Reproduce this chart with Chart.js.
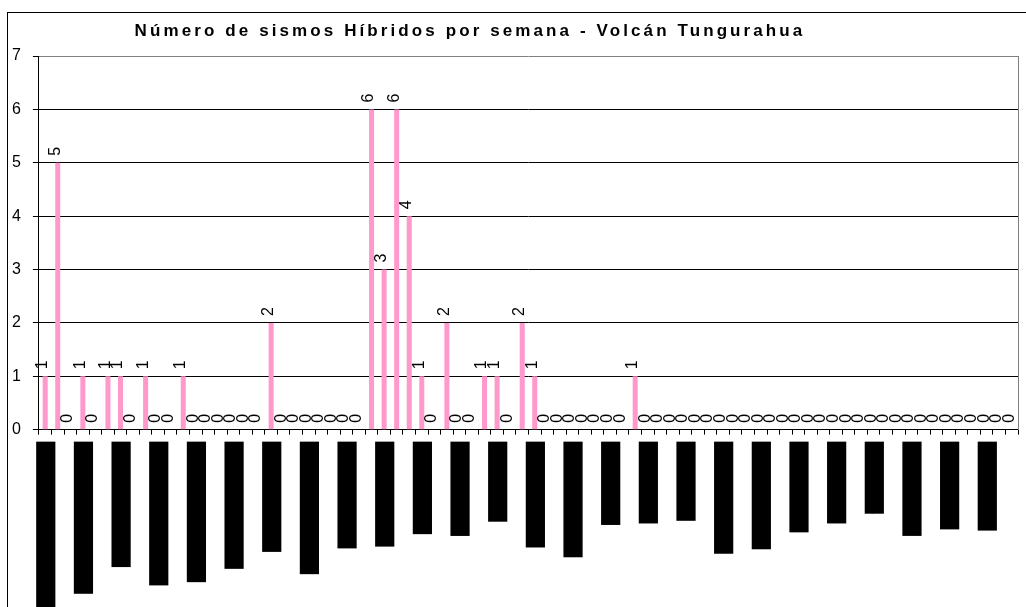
<!DOCTYPE html>
<html>
<head>
<meta charset="utf-8">
<script src="https://cdn.jsdelivr.net/npm/chart.js@4"></script>
<style>
  html, body { margin: 0; padding: 0; background: #fff; overflow: hidden; }
  #frame { position: absolute; left: 7px; top: 12px; width: 2000px; height: 2000px;
           border-top: 1px solid #000; border-left: 1px solid #000; }
  #chart { position: absolute; left: 0; top: 0; }
</style>
</head>
<body>
<div id="frame"></div>
<canvas id="chart" width="1038" height="615"></canvas>
<script>
const title = "Número de sismos Híbridos por semana - Volcán Tungurahua";

// weekly count of hybrid earthquakes (78 weeks)
const hibridos = [
  1, 5, 0, 1, 0, 1, 1, 0, 1, 0,
  0, 1, 0, 0, 0, 0, 0, 0, 2, 0,
  0, 0, 0, 0, 0, 0, 6, 3, 6, 4,
  1, 0, 2, 0, 0, 1, 1, 0, 2, 1,
  0, 0, 0, 0, 0, 0, 0, 1, 0, 0,
  0, 0, 0, 0, 0, 0, 0, 0, 0, 0,
  0, 0, 0, 0, 0, 0, 0, 0, 0, 0,
  0, 0, 0, 0, 0, 0, 0, 0,
];

// one label every third week (rendered as solid black blocks in the original)
const semanas = [
  "01 ene - 07 enero 2007", "22 ene - 28 ene 2007", "12 feb - 18 feb 07",
  "5 mar - 11 mar 2007", "26 mar - 1 abr 2007", "16 abr - 22 abr 07",
  "7 may - 13 may", "28 may - 03 jun 07", "18-24 jun 2007",
  "9-15 julio 2007", "30 jul - 5 ago", "20-26 ago 07",
  "10 - 16 sep", "1 oct - 7 oct 07", "22 - 28 oct 2007",
  "12 - 18 nov.", "3 dic - 9 dic", "24 - 30 dic.",
  "14-20 ene 2008", "4 - 10 feb 2008", "25 feb-2 mar",
  "17 - 23 mar", "07-13 abr.", "28 abr-4 may",
  "19 - 25 may.", "9 - 15 jun 08",
];

const yTicks = [0, 1, 2, 3, 4, 5, 6, 7];

const labels = hibridos.map((_, i) => (i % 3 === 0 ? semanas[i / 3] : ""));

Chart.defaults.font.family = '"Liberation Sans", Arial, sans-serif';
Chart.defaults.color = "#000";

// letter-spaced, slightly left-shifted title like the Excel original
const spacedTitle = {
  id: "spacedTitle",
  afterInit(chart) {
    const block = chart.titleBlock;
    if (!block) return;
    const draw = block.draw.bind(block);
    block.draw = () => {
      const ctx = chart.ctx;
      ctx.save();
      ctx.letterSpacing = "3.1px";
      ctx.translate(-49, 0);
      draw();
      ctx.restore();
    };
  },
};

// rotated value labels above each bar
const valueLabels = {
  id: "valueLabels",
  afterDatasetsDraw(chart) {
    const ctx = chart.ctx;
    const meta = chart.getDatasetMeta(0);
    ctx.save();
    ctx.font = '16px "Liberation Sans", Arial, sans-serif';
    ctx.fillStyle = "#000";
    ctx.textAlign = "left";
    ctx.textBaseline = "middle";
    meta.data.forEach((bar, i) => {
      ctx.save();
      ctx.translate(bar.x - 2.5, bar.y - 7);
      ctx.rotate(-Math.PI / 2);
      ctx.fillText(String(hibridos[i]), 0, 0);
      ctx.restore();
    });
    ctx.restore();
  },
};

new Chart(document.getElementById("chart"), {
  type: "bar",
  data: {
    labels,
    datasets: [{
      data: hibridos,
      backgroundColor: "#ff99cc",
      borderWidth: 0,
      barPercentage: 0.4,
      categoryPercentage: 1,
    }],
  },
  options: {
    responsive: false,
    animation: false,
    layout: { padding: { top: 12, left: 0, right: 0, bottom: 0 } },
    plugins: {
      legend: { display: false },
      tooltip: { enabled: false },
      title: {
        display: true,
        text: title,
        color: "#000",
        font: { size: 17, weight: "bold" },
        padding: { top: 9, bottom: 14.6 },
      },
    },
    scales: {
      x: {
        grid: { drawOnChartArea: false, offset: true, tickLength: 5, tickColor: "#000" },
        border: { color: "#000" },
        ticks: {
          autoSkip: false,
          minRotation: 90,
          maxRotation: 90,
          padding: 7,
          labelOffset: -9,
          color: "#000",
          showLabelBackdrop: true,
          backdropColor: "#000",
          backdropPadding: 0,
          font: { size: 16, lineHeight: 1.2 },
        },
      },
      y: {
        min: yTicks[0],
        max: yTicks[yTicks.length - 1],
        afterBuildTicks: (axis) => { axis.ticks = yTicks.map((v) => ({ value: v })); },
        grid: {
          color: (c) => (c.tick && c.tick.value === 7 ? "#808080" : "#000"),
          tickLength: 6,
          tickColor: "#000",
        },
        border: { color: "#000" },
        ticks: { padding: 12, color: "#000", font: { size: 16 } },
      },
      y2: {
        position: "right",
        grid: { drawOnChartArea: false, drawTicks: false },
        ticks: { display: false },
        border: { color: "#808080" },
      },
    },
  },
  plugins: [spacedTitle, valueLabels],
});
</script>
</body>
</html>
